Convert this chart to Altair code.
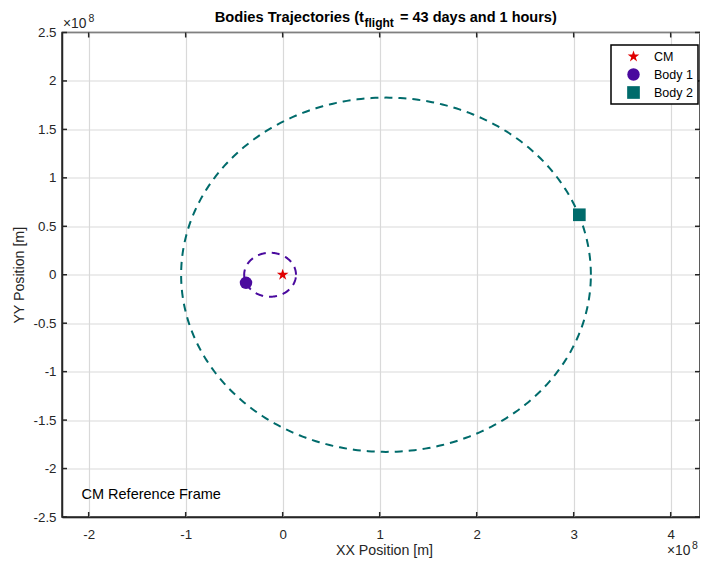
import altair as alt
import numpy as np
import pandas as pd

# ---------------- data (units of 1e8 m) ----------------
x_ticks = [-2, -1, 0, 1, 2, 3, 4]
y_ticks = [-2.5, -2, -1.5, -1, -0.5, 0, 0.5, 1, 1.5, 2, 2.5]
x_domain = [-2.275, 4.302]
y_domain = [-2.5, 2.5]

body_names = ["CM", "Body 1", "Body 2"]
body_x = [0.0, -0.378, 3.058]
body_y = [0.0, -0.083, 0.619]
body_colors = ["#e00000", "#4a0a9e", "#006b6b"]
body_sizes = [150, 161, 114]

# trajectory ellipses: centre x, centre y, semi-axis x, semi-axis y
orbit1 = [-0.130, 0.0, 0.267, 0.227]
orbit2 = [1.065, 0.0, 2.112, 1.828]

STAR = ("M0,-1L0.225,-0.309L0.951,-0.309L0.363,0.118L0.588,0.809L0,0.382"
        "L-0.588,0.809L-0.363,0.118L-0.951,-0.309L-0.225,-0.309Z")

W, H = 638, 484.5
FONT = "Liberation Sans"
TXT = "#262626"


def ellipse(params, name):
    cx, cy, ax, by = params
    t = np.linspace(0, 2 * np.pi, 361)
    return pd.DataFrame({"x": cx + ax * np.cos(t), "y": cy + by * np.sin(t), "k": np.arange(361), "body": name})


xs = alt.Scale(domain=x_domain, nice=False, zero=False)
ys = alt.Scale(domain=y_domain, nice=False, zero=False)

x_axis = alt.Axis(values=x_ticks, labelExpr="'' + datum.value", title="XX Position [m]",
                  grid=True, ticks=False, labelPadding=10, labelFontSize=13.3,
                  titleX=322, titleY=37, titleAnchor="middle", titleAlign="center",
                  titleBaseline="alphabetic", titleFontSize=14.2, titleFontWeight="normal")
y_axis = alt.Axis(values=y_ticks, labelExpr="'' + datum.value", title="YY Position [m]",
                  grid=True, ticks=False, labelPadding=6, labelFontSize=13.3,
                  titleX=-39, titleY=H / 2, titleAngle=270, titleAlign="center",
                  titleBaseline="alphabetic", titleFontSize=14.2, titleFontWeight="normal")

grid_layer = alt.Chart(pd.DataFrame({"x": [0.0], "y": [0.0]})).mark_point(opacity=0).encode(
    x=alt.X("x:Q", scale=xs, axis=x_axis), y=alt.Y("y:Q", scale=ys, axis=y_axis))

lines = []
for params, name, col in [(orbit1, "Body 1", body_colors[1]), (orbit2, "Body 2", body_colors[2])]:
    lines.append(alt.Chart(ellipse(params, name)).mark_line(
        strokeDash=[8, 6], strokeWidth=2, color=col).encode(
        x=alt.X("x:Q", scale=xs), y=alt.Y("y:Q", scale=ys), order="k:Q"))

pts = pd.DataFrame({"body": body_names, "x": body_x, "y": body_y})
points = alt.Chart(pts).mark_point(filled=True, opacity=1, strokeWidth=0).encode(
    x=alt.X("x:Q", scale=xs),
    y=alt.Y("y:Q", scale=ys),
    color=alt.Color("body:N", scale=alt.Scale(domain=body_names, range=body_colors),
                    legend=alt.Legend(title=None, orient="none", legendX=549, legendY=12.5)),
    shape=alt.Shape("body:N", scale=alt.Scale(domain=body_names, range=[STAR, "circle", "square"]),
                    legend=alt.Legend(title=None, orient="none", legendX=549, legendY=12.5)),
    size=alt.Size("body:N", scale=alt.Scale(domain=body_names, range=body_sizes), legend=None),
)

# inward tick marks on all four sides
xt = pd.DataFrame({"x": x_ticks})
yt = pd.DataFrame({"y": y_ticks})
tick_style = dict(color=TXT, strokeWidth=1.5)
tk_b = alt.Chart(xt).mark_rule(**tick_style).encode(x=alt.X("x:Q", scale=xs), y=alt.value(H), y2=alt.value(H - 5))
tk_t = alt.Chart(xt).mark_rule(**tick_style).encode(x=alt.X("x:Q", scale=xs), y=alt.value(0), y2=alt.value(5))
tk_l = alt.Chart(yt).mark_rule(**tick_style).encode(y=alt.Y("y:Q", scale=ys), x=alt.value(0), x2=alt.value(5))
tk_r = alt.Chart(yt).mark_rule(**tick_style).encode(y=alt.Y("y:Q", scale=ys), x=alt.value(W), x2=alt.value(W - 5))


def label(txt, x, y, size, weight="normal", align="left", color="#000000"):
    return alt.Chart(pd.DataFrame({"t": [txt]})).mark_text(
        font=FONT, fontSize=size, fontWeight=weight, align=align, baseline="alphabetic", color=color
    ).encode(text="t:N", x=alt.value(x), y=alt.value(y))


texts = [
    label("Bodies Trajectories (t", 302, -10.8, 14.7, "bold", "right"),
    label("flight", 302.5, -5.3, 12, "bold"),
    label("= 43 days and 1 hours)", 338, -10.8, 14.5, "bold"),
    label("CM Reference Frame", 19.5, 466.5, 14.5),
    label("\u00d710", 1, -4.5, 13.8, color=TXT),
    label("8", 26.5, -10.8, 10.5, color=TXT),
    label("\u00d710", 605, 522.5, 13.8, color=TXT),
    label("8", 630, 516.5, 10.5, color=TXT),
]

chart = alt.layer(grid_layer, *lines, tk_b, tk_t, tk_l, tk_r, points, *texts).properties(
    width=W, height=H,
    autosize=alt.AutoSizeParams(type="none"),
    padding={"left": 54, "top": 24.5, "right": 0, "bottom": 41},
).configure_view(
    stroke=TXT, strokeWidth=1.5
).configure_axis(
    gridColor="#d9d9d9", gridWidth=1.2, domainColor=TXT, domainWidth=1.5,
    labelColor=TXT, titleColor=TXT, labelFont=FONT, titleFont=FONT
).configure_legend(
    strokeColor="#000000", strokeWidth=1.5, fillColor="#ffffff", padding=5,
    symbolOffset=11, labelOffset=14, rowPadding=5, symbolSize=130, symbolStrokeWidth=0,
    symbolOpacity=1, labelFontSize=12.5, labelFont=FONT, labelColor="#000000", cornerRadius=0
)

chart.save("out.html", embed_options={"renderer": "svg", "actions": False})
